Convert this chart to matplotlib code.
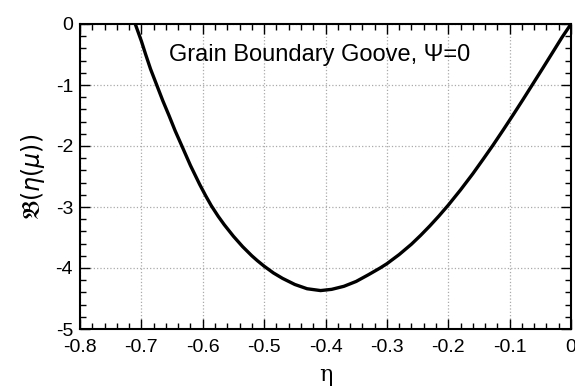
import matplotlib
matplotlib.use("Agg")
import matplotlib.pyplot as plt
from matplotlib.ticker import MultipleLocator

eta = [-0.71, -0.70, -0.693, -0.685, -0.675, -0.665, -0.655, -0.645, -0.634, -0.62,
       -0.605, -0.595, -0.586, -0.575, -0.565, -0.55, -0.535, -0.52, -0.511, -0.5,
       -0.485, -0.47, -0.45, -0.43, -0.408, -0.39, -0.37, -0.35, -0.33, -0.311,
       -0.3, -0.28, -0.26, -0.245, -0.23, -0.215, -0.2, -0.18, -0.16, -0.143,
       -0.127, -0.11, -0.094, -0.078, -0.062, -0.046, -0.03, -0.015, 0.0]
B = [0.0, -0.28, -0.5, -0.74, -1.0, -1.26, -1.5, -1.75, -2.0, -2.32,
     -2.63, -2.82, -2.98, -3.15, -3.29, -3.48, -3.65, -3.8, -3.88, -3.97,
     -4.08, -4.17, -4.27, -4.34, -4.37, -4.35, -4.3, -4.22, -4.11, -4.0,
     -3.93, -3.78, -3.61, -3.465, -3.31, -3.145, -2.97, -2.72, -2.455, -2.215,
     -1.985, -1.73, -1.485, -1.235, -0.98, -0.725, -0.467, -0.224, 0.0]

plt.rcParams['font.family'] = ['Liberation Sans', 'DejaVu Sans']
fig = plt.figure(figsize=(5.75, 3.87), dpi=100)
ax = fig.add_axes([80/575, 1-329/387, 491/575, 305/387])
ax.plot(eta, B, color='black', lw=2.4, solid_joinstyle='round', solid_capstyle='round')
ax.set_xlim(-0.8, 0)
ax.set_ylim(-5, 0)
xt = [-0.8, -0.7, -0.6, -0.5, -0.4, -0.3, -0.2, -0.1, 0]
xl = ['-0.8', '-0.7', '-0.6', '-0.5', '-0.4', '-0.3', '-0.2', '-0.1', '0']
yt = [-5, -4, -3, -2, -1, 0]
yl = ['-5', '-4', '-3', '-2', '-1', '0']
ax.set_xticks(xt)
ax.set_xticklabels(xl)
ax.set_yticks(yt)
ax.set_yticklabels(yl)
ax.xaxis.set_minor_locator(MultipleLocator(0.02))
ax.yaxis.set_minor_locator(MultipleLocator(0.2))
ax.tick_params(which='both', direction='in', top=True, right=True, labelsize=14, width=1.0)
ax.tick_params(which='major', length=7)
ax.tick_params(which='minor', length=4)
ax.tick_params(axis='x', pad=7)
ax.tick_params(axis='y', pad=5)
for s in ax.spines.values():
    s.set_linewidth(1.5)
ax.grid(True, which='major', color='#aaaaaa', linestyle=':', linewidth=0.9)
ax.set_xlabel('η', family=['DejaVu Serif'], fontsize=16, labelpad=6)
ax.set_ylabel(r'$\mathfrak{B}(\eta(\mu))$', fontsize=17, labelpad=6)
ax.text(-0.41, -0.5, 'Grain Boundary Goove, Ψ=0', ha='center', va='center', fontsize=17)
fig.savefig('out.png', dpi=100)
